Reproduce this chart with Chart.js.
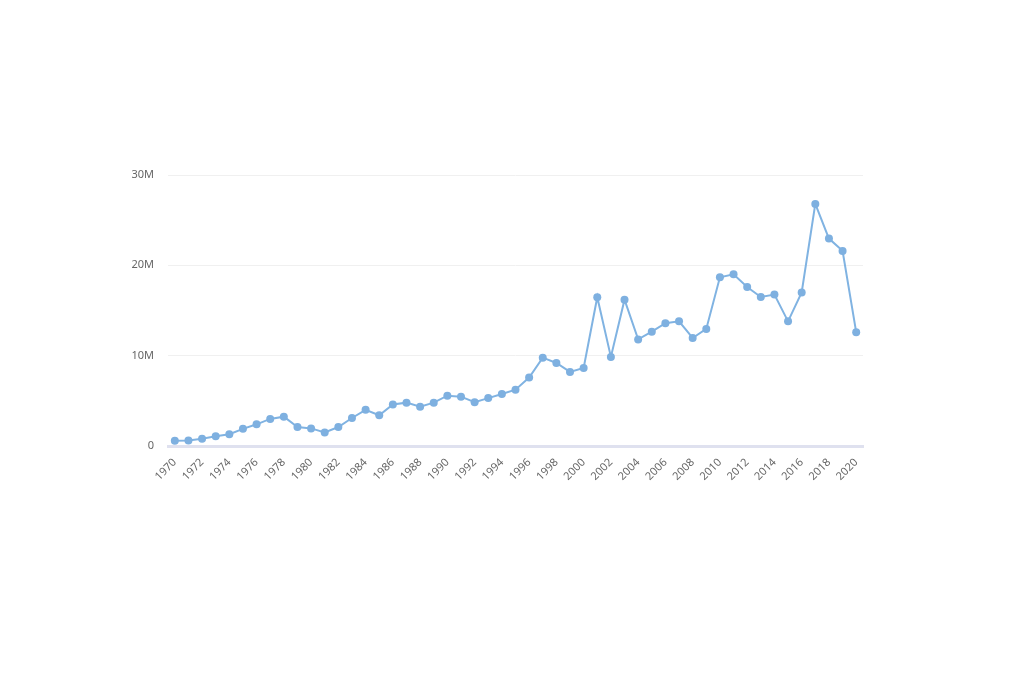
<!DOCTYPE html>
<html>
<head>
<meta charset="utf-8">
<script src="https://cdn.jsdelivr.net/npm/chart.js@4"></script>
<style>
  html, body { margin: 0; padding: 0; background: #fff; }
  #wrap { width: 1024px; height: 683px; }
</style>
</head>
<body>
<div id="wrap"><canvas id="lineChart"></canvas></div>
<script>
const years = [];
for (let y = 1970; y <= 2020; y++) years.push(String(y));

// values in millions
const values = [
  0.59, 0.6, 0.8, 1.07, 1.3, 1.9, 2.4, 3.0, 3.25, 2.1,
  1.95, 1.5, 2.1, 3.1, 4.0, 3.4, 4.6, 4.8, 4.35, 4.8,
  5.57, 5.46, 4.84, 5.3, 5.76, 6.24, 7.57, 9.78, 9.19, 8.2,
  8.64, 16.47, 9.86, 16.2, 11.8, 12.66, 13.6, 13.8, 11.96, 12.96,
  18.68, 19.0, 17.6, 16.5, 16.76, 13.8, 17.0, 26.8, 22.96, 21.6,
  12.6
];

const yTicks = [0, 10, 20, 30];

const ctx = document.getElementById('lineChart').getContext('2d');

const lineChart = new Chart(ctx, {
    type: 'line',
    data: {
        labels: years,
        datasets: [{
            data: values.map(v => v * 1000000),
            borderColor: '#80b3e2',
            backgroundColor: '#80b3e2',
            borderWidth: 2,
            pointRadius: 4,
            pointBackgroundColor: '#7eb0e0',
            pointBorderWidth: 0,
            tension: 0,
            fill: false,
        }]
    },
    options: {
        responsive: true,
        maintainAspectRatio: false,
        animation: false,
        layout: {
            padding: { top: 175, right: 161, bottom: 0, left: 0 }
        },
        scales: {
            x: {
                offset: true,
                grid: { display: false, drawTicks: false },
                border: { display: true, color: '#dfe1ef', width: 3 },
                ticks: {
                    autoSkip: false,
                    maxRotation: 45,
                    minRotation: 45,
                    padding: 10,
                    color: '#666',
                    font: { family: 'Noto Sans', size: 11 },
                    callback: function (val, i) { return i % 2 === 0 ? years[i] : ''; }
                },
                afterFit: function (scale) { scale.height = 237; }
            },
            y: {
                min: 0,
                max: yTicks[yTicks.length - 1] * 1000000,
                afterBuildTicks: function (scale) {
                    scale.ticks = yTicks.map(v => ({ value: v * 1000000 }));
                },
                grid: { color: '#f0f0f0', drawTicks: false },
                border: { display: false },
                ticks: {
                    padding: 14,
                    color: '#666',
                    font: { family: 'Noto Sans', size: 11 },
                    callback: function (v) { return v === 0 ? '0' : (v / 1000000) + 'M'; }
                },
                afterFit: function (scale) { scale.width = 168; }
            }
        },
        plugins: {
            legend: { display: false },
            tooltip: { enabled: false }
        }
    }
});
</script>
</body>
</html>
